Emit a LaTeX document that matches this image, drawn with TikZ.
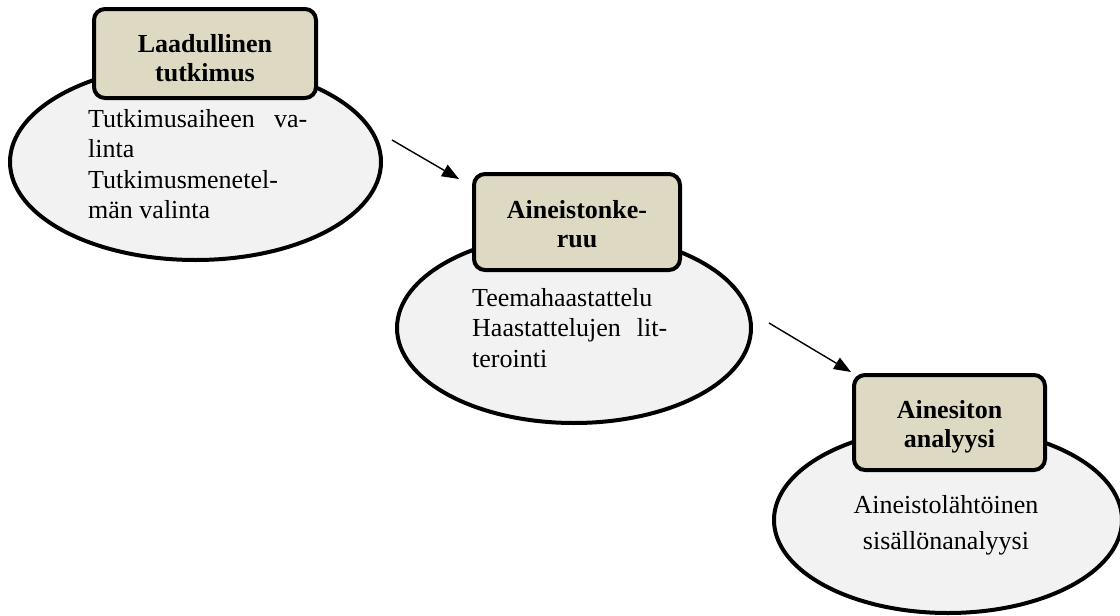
\documentclass[tikz,border=0pt]{standalone}
\usepackage{fontspec}
\setmainfont{Liberation Serif}
\usetikzlibrary{shapes.geometric,arrows.meta}
\definecolor{boxfill}{HTML}{DDD9C3}
\definecolor{ellfill}{HTML}{F2F2F2}
\begin{document}
\begin{tikzpicture}[x=1pt,y=-1pt,
  oval/.style={ellipse,draw=black,fill=ellfill,line width=4pt,inner sep=0pt},
  titlebox/.style={rectangle,draw=black,fill=boxfill,line width=4pt,rounded corners=11pt,inner sep=0pt},
  titletext/.style={inner sep=0pt,anchor=base,font=\fontsize{26}{29.5}\selectfont\bfseries},
  bodytext/.style={inner sep=0pt,anchor=base west,font=\fontsize{26}{30.5}\selectfont},
  flow/.style={line width=1.4pt,-{Triangle[length=17pt,width=13pt]}}]
\useasboundingbox (0,0) rectangle (1120,616);
% ellipses
\node[oval,minimum width=371pt,minimum height=196pt] (e1) at (195.5,162) {};
\node[oval,minimum width=354pt,minimum height=190pt] (e2) at (574,328) {};
\node[oval,minimum width=348pt,minimum height=186pt] (e3) at (948,520) {};
% title boxes
\node[titlebox,minimum width=222pt,minimum height=89pt] (b1) at (205,53.5) {};
\node[titlebox,minimum width=206pt,minimum height=96pt] (b2) at (577,222) {};
\node[titlebox,minimum width=191pt,minimum height=95pt] (b3) at (949.5,422.5) {};
\node[titletext] (b1t) at (205,52) {\parbox[t]{220pt}{\centering Laadullinen\\tutkimus}};
\node[titletext] (b2t) at (577,218) {\parbox[t]{200pt}{\centering Aineistonke-\\ruu}};
\node[titletext] (b3t) at (949.5,418) {\parbox[t]{190pt}{\centering Ainesiton\\analyysi}};
% texts
\node[bodytext] (t1) at (88,127) {\parbox[t]{219pt}{\makebox[219pt][s]{Tutkimusaiheen va-}\\linta\\Tutkimusmenetel-\\män valinta}};
\node[bodytext] (t2) at (472,306) {\parbox[t]{195pt}{Teemahaastattelu\\\makebox[195pt][s]{Haastattelujen lit-}\\terointi}};
\node[inner sep=0pt,anchor=base,font=\fontsize{26}{36}\selectfont] (t3) at (946,513) {\parbox[t]{260pt}{\centering Aineistolähtöinen\\sisällönanalyysi}};
% arrows
\coordinate (a1s) at (392,140);
\coordinate (a1e) at (459,179);
\coordinate (a2s) at (769,323);
\coordinate (a2e) at (851,372);
\draw[flow] (a1s) -- (a1e);
\draw[flow] (a2s) -- (a2e);
\end{tikzpicture}
\end{document}
